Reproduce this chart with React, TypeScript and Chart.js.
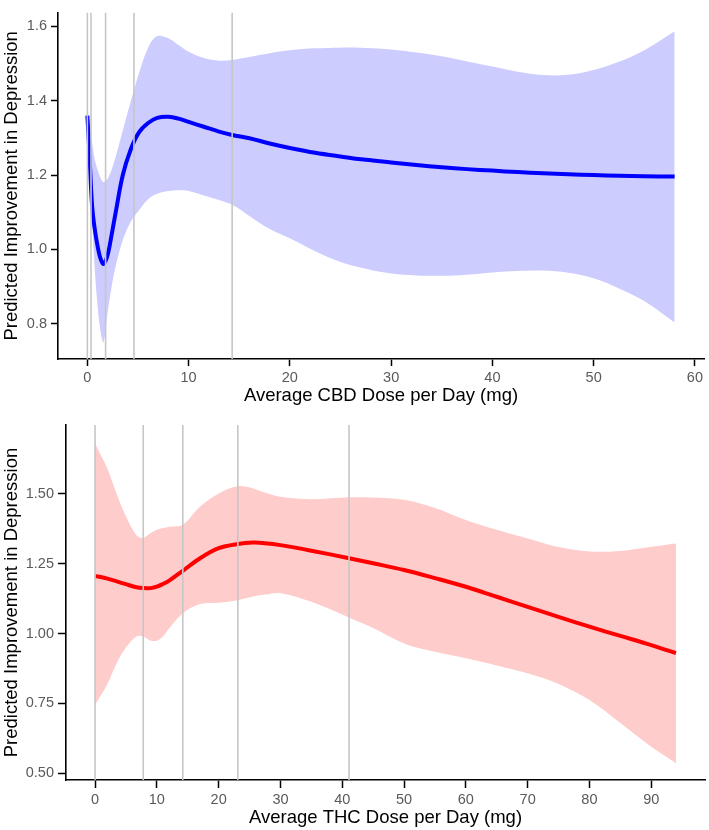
import React, { useEffect, useRef } from "react";
import { Chart, registerables } from "chart.js";

Chart.register(...registerables);

// ---------- CBD (top panel) ----------
const cbdDose = [0, 0.2, 0.46, 0.7, 1.0, 1.3, 1.6, 2.0, 2.4, 2.8, 3.5, 4.3, 5.1, 6.0, 6.9, 8, 9, 10, 11.5, 13, 14.3, 16, 18, 20, 22.5, 25, 27.5, 30, 32.5, 35, 37.5, 40, 42.5, 45, 47.5, 50, 52.5, 55, 58];
const cbdFit = [1.36, 1.26, 1.12, 1.06, 1.01, 0.975, 0.961, 0.985, 1.04, 1.1, 1.2, 1.27, 1.315, 1.34, 1.354, 1.357, 1.352, 1.343, 1.33, 1.317, 1.308, 1.299, 1.285, 1.273, 1.26, 1.25, 1.241, 1.234, 1.227, 1.221, 1.216, 1.212, 1.208, 1.205, 1.202, 1.2, 1.198, 1.197, 1.196];
const cbdUpper = [1.375, 1.34, 1.29, 1.245, 1.215, 1.193, 1.181, 1.19, 1.215, 1.25, 1.32, 1.4, 1.475, 1.543, 1.574, 1.568, 1.55, 1.532, 1.515, 1.508, 1.51, 1.518, 1.528, 1.536, 1.541, 1.543, 1.542, 1.538, 1.53, 1.52, 1.506, 1.492, 1.478, 1.469, 1.47, 1.483, 1.505, 1.536, 1.587];
const cbdLower = [1.33, 1.22, 1.08, 0.96, 0.85, 0.78, 0.75, 0.83, 0.9, 0.955, 1.025, 1.075, 1.105, 1.135, 1.15, 1.157, 1.159, 1.157, 1.145, 1.133, 1.12, 1.09, 1.055, 1.03, 0.995, 0.966, 0.948, 0.935, 0.93, 0.929, 0.932, 0.938, 0.942, 0.943, 0.937, 0.922, 0.895, 0.861, 0.803];
const cbdKnots = [0, 0.36, 1.8, 4.6, 14.3];
const cbdXTicks = [0, 10, 20, 30, 40, 50, 60];
const cbdYTicks = [0.8, 1.0, 1.2, 1.4, 1.6];

// ---------- THC (bottom panel) ----------
const thcDose = [0, 2, 3.5, 5, 6.7, 7.8, 9, 10, 11, 12, 14.2, 17, 20, 23.1, 25.6, 27.5, 30, 35, 41.1, 45, 50, 55, 60, 65, 70, 75, 80, 85, 90, 94];
const thcFit = [1.207, 1.197, 1.187, 1.177, 1.166, 1.163, 1.163, 1.168, 1.178, 1.19, 1.225, 1.27, 1.306, 1.321, 1.326, 1.324, 1.317, 1.297, 1.27, 1.252, 1.228, 1.199, 1.168, 1.132, 1.096, 1.06, 1.025, 0.992, 0.959, 0.93];
const thcUpper = [1.681, 1.59, 1.5, 1.42, 1.352, 1.343, 1.36, 1.372, 1.378, 1.383, 1.39, 1.455, 1.502, 1.528, 1.52, 1.505, 1.49, 1.481, 1.488, 1.487, 1.479, 1.45, 1.407, 1.372, 1.341, 1.31, 1.294, 1.296, 1.311, 1.323];
const thcLower = [0.745, 0.82, 0.894, 0.95, 0.99, 0.99, 0.975, 0.975, 0.99, 1.019, 1.073, 1.106, 1.111, 1.12, 1.133, 1.14, 1.145, 1.114, 1.058, 1.02, 0.965, 0.935, 0.912, 0.886, 0.858, 0.82, 0.762, 0.68, 0.595, 0.536];
const thcKnots = [0, 7.8, 14.2, 23.1, 41.1];
const thcXTicks = [0, 10, 20, 30, 40, 50, 60, 70, 80, 90];
const thcYTicks = [0.5, 0.75, 1.0, 1.25, 1.5];

const FONT = "'Liberation Sans', Arial, Helvetica, sans-serif";

type PanelSpec = {
  dose: number[];
  fit: number[];
  upper: number[];
  lower: number[];
  knots: number[];
  xTicks: number[];
  yTicks: number[];
  yDecimals: number;
  xMin: number;
  xMax: number;
  yMin: number;
  yMax: number;
  lineColor: string;
  bandColor: string;
  xTitle: string;
  yAxisWidth: number;
  xAxisHeight: number;
  padTop: number;
  padRight: number;
  tickLen: number;
  yTickPad: number;
  xTitlePadBottom: number;
};

function pts(xs: number[], ys: number[]) {
  return xs.map((x, i) => ({ x, y: ys[i] }));
}

function makeConfig(p: PanelSpec): any {
  const vlinePlugin = {
    id: "knotLines",
    afterDatasetsDraw(chart: any) {
      const { ctx, chartArea, scales } = chart;
      const xs = scales.x;
      ctx.save();
      ctx.strokeStyle = "#c6c6c6";
      ctx.lineWidth = 1.6;
      p.knots.forEach((k) => {
        const px = xs.getPixelForValue(k);
        ctx.beginPath();
        ctx.moveTo(px, chartArea.top);
        ctx.lineTo(px, chartArea.bottom);
        ctx.stroke();
      });
      ctx.restore();
    },
  };
  const smooth = { tension: 0.35, cubicInterpolationMode: "default" };
  return {
    type: "line",
    data: {
      datasets: [
        {
          data: pts(p.dose, p.fit),
          borderColor: p.lineColor,
          borderWidth: 4,
          pointRadius: 0,
          fill: false,
          borderCapStyle: "butt",
          ...smooth,
        },
        {
          data: pts(p.dose, p.upper),
          borderWidth: 0,
          borderColor: "rgba(0,0,0,0)",
          pointRadius: 0,
          backgroundColor: p.bandColor,
          fill: "+1",
          ...smooth,
        },
        {
          data: pts(p.dose, p.lower),
          borderWidth: 0,
          borderColor: "rgba(0,0,0,0)",
          pointRadius: 0,
          fill: false,
          ...smooth,
        },
      ],
    },
    options: {
      responsive: false,
      animation: false,
      devicePixelRatio: 1,
      layout: { padding: { top: p.padTop, right: p.padRight, left: 0, bottom: 0 } },
      plugins: { legend: { display: false }, tooltip: { enabled: false } },
      scales: {
        x: {
          type: "linear",
          min: p.xMin,
          max: p.xMax,
          afterBuildTicks: (s: any) => {
            s.ticks = p.xTicks.map((v) => ({ value: v }));
          },
          afterFit: (s: any) => {
            s.height = p.xAxisHeight;
          },
          grid: {
            display: true,
            drawOnChartArea: false,
            drawTicks: true,
            tickLength: p.tickLen,
            tickColor: "#000",
            tickWidth: 1.5,
          },
          border: { display: true, color: "#000", width: 1.6 },
          ticks: {
            color: "#5a5a5a",
            font: { family: FONT, size: 14.5 },
            padding: 3,
            maxRotation: 0,
            autoSkip: false,
            callback: (v: any) => String(v),
          },
          title: {
            display: true,
            text: p.xTitle,
            color: "#000",
            font: { family: FONT, size: 18.5 },
            padding: { top: 0, bottom: p.xTitlePadBottom },
          },
        },
        y: {
          type: "linear",
          min: p.yMin,
          max: p.yMax,
          afterBuildTicks: (s: any) => {
            s.ticks = p.yTicks.map((v) => ({ value: v }));
          },
          afterFit: (s: any) => {
            s.width = p.yAxisWidth;
          },
          grid: {
            display: true,
            drawOnChartArea: false,
            drawTicks: true,
            tickLength: p.tickLen,
            tickColor: "#000",
            tickWidth: 1.5,
          },
          border: { display: true, color: "#000", width: 1.6 },
          ticks: {
            color: "#5a5a5a",
            font: { family: FONT, size: 14.5 },
            padding: p.yTickPad,
            autoSkip: false,
            callback: (v: any) => Number(v).toFixed(p.yDecimals),
          },
          title: {
            display: true,
            text: "Predicted Improvement in Depression",
            color: "#000",
            font: { family: FONT, size: 18.5 },
            padding: { top: 1, bottom: 0 },
          },
        },
      },
    },
    plugins: [vlinePlugin],
  };
}

const topSpec: PanelSpec = {
  dose: cbdDose,
  fit: cbdFit,
  upper: cbdUpper,
  lower: cbdLower,
  knots: cbdKnots,
  xTicks: cbdXTicks,
  yTicks: cbdYTicks,
  yDecimals: 1,
  xMin: -2.9,
  xMax: 60.9,
  yMin: 0.705,
  yMax: 1.637,
  lineColor: "#0000ff",
  bandColor: "#ccccff",
  xTitle: "Average CBD Dose per Day (mg)",
  yAxisWidth: 58,
  xAxisHeight: 51,
  padTop: 5,
  padRight: 5,
  tickLen: 7,
  yTickPad: 4,
  xTitlePadBottom: 3,
};

const bottomSpec: PanelSpec = {
  dose: thcDose,
  fit: thcFit,
  upper: thcUpper,
  lower: thcLower,
  knots: thcKnots,
  xTicks: thcXTicks,
  yTicks: thcYTicks,
  yDecimals: 2,
  xMin: -4.7,
  xMax: 98.7,
  yMin: 0.476,
  yMax: 1.747,
  lineColor: "#ff0000",
  bandColor: "#ffcccc",
  xTitle: "Average THC Dose per Day (mg)",
  yAxisWidth: 66,
  xAxisHeight: 50,
  padTop: 15,
  padRight: 4,
  tickLen: 8,
  yTickPad: 4,
  xTitlePadBottom: 1,
};

function Panel({ spec, width, height, top }: { spec: PanelSpec; width: number; height: number; top: number }) {
  const ref = useRef<HTMLCanvasElement | null>(null);
  useEffect(() => {
    if (!ref.current) return;
    const chart = new Chart(ref.current, makeConfig(spec));
    return () => chart.destroy();
  }, [spec]);
  return (
    <canvas
      ref={ref}
      width={width}
      height={height}
      style={{ position: "absolute", left: 0, top, width, height, display: "block" }}
    />
  );
}

export default function App() {
  return (
    <div style={{ position: "absolute", left: 0, top: 0, width: 709, height: 830, background: "#fff", overflow: "hidden" }}>
      <Panel spec={topSpec} width={709} height={410} top={0} />
      <Panel spec={bottomSpec} width={709} height={420} top={410} />
    </div>
  );
}
